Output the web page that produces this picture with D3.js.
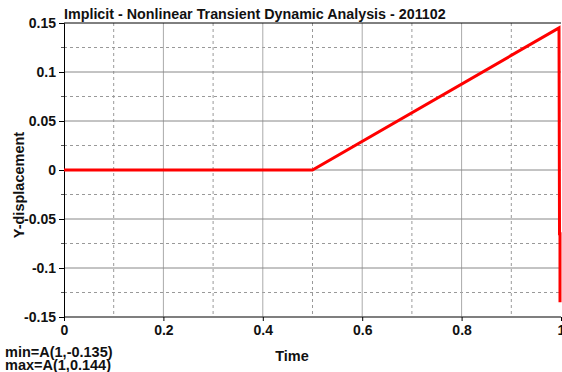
<!DOCTYPE html>
<html>
<head>
<meta charset="utf-8">
<script src="https://cdn.jsdelivr.net/npm/d3@7"></script>
<style>
    body { margin: 0; background: #fff; }
    text { font-family: "Liberation Sans", Arial, sans-serif; font-weight: bold; fill: #111; }
</style>
</head>
<body>
<div id="chart"></div>
<script>
// Series data
const timeValues = [0, 0.5, 0.996, 0.997, 0.999, 1];
const yDisplacement = [0, 0, 0.145, -0.065, -0.065, -0.135];
const xTicks = [0, 0.2, 0.4, 0.6, 0.8, 1];
const yTicks = [0.15, 0.1, 0.05, 0, -0.05, -0.1, -0.15];
const xMinor = [0.1, 0.3, 0.5, 0.7, 0.9];
const yMinor = [0.125, 0.075, 0.025, -0.025, -0.075, -0.125];
const titleText = "Implicit - Nonlinear Transient Dynamic Analysis - 201102";
const noteLines = ["min=A(1,-0.135)", "max=A(1,0.144)"];

const width = 562;
const height = 372;
const margin = { top: 23, right: 1, bottom: 55, left: 64 };

const svg = d3.select("#chart")
    .append("svg")
    .attr("width", width)
    .attr("height", height);

const x = d3.scaleLinear().domain([0, 1]).range([margin.left, width - margin.right]);
const y = d3.scaleLinear().domain([-0.15, 0.15]).range([height - margin.bottom, margin.top]);

// Minor dashed grid
svg.selectAll(".xminor").data(xMinor).enter().append("line")
    .attr("x1", d => x(d)).attr("x2", d => x(d))
    .attr("y1", y(0.15)).attr("y2", y(-0.15))
    .attr("stroke", "#999").attr("stroke-dasharray", "3,3");
svg.selectAll(".yminor").data(yMinor).enter().append("line")
    .attr("x1", x(0)).attr("x2", x(1))
    .attr("y1", d => y(d)).attr("y2", d => y(d))
    .attr("stroke", "#999").attr("stroke-dasharray", "3,3");

// Major solid grid
svg.selectAll(".xmajor").data(xTicks.slice(1, -1)).enter().append("line")
    .attr("x1", d => x(d)).attr("x2", d => x(d))
    .attr("y1", y(0.15)).attr("y2", y(-0.15))
    .attr("stroke", "#aaa");
svg.selectAll(".ymajor").data(yTicks.slice(1, -1)).enter().append("line")
    .attr("x1", x(0)).attr("x2", x(1))
    .attr("y1", d => y(d)).attr("y2", d => y(d))
    .attr("stroke", "#888");

// Frame
svg.append("line").attr("x1", x(0)).attr("x2", x(1)).attr("y1", y(0.15)).attr("y2", y(0.15)).attr("stroke", "#000");
svg.append("line").attr("x1", x(0)).attr("x2", x(1)).attr("y1", y(-0.15)).attr("y2", y(-0.15)).attr("stroke", "#555").attr("stroke-width", 1.5);

// Axes (plain hyphen for negative numbers, like the original)
const yAxis = d3.axisLeft(y).tickValues(yTicks).tickSize(5).tickPadding(3).tickFormat(d => String(+d.toFixed(3)));
svg.append("g").attr("transform", `translate(${margin.left},0)`).call(yAxis)
    .call(g => g.select(".domain").attr("stroke", "#000"))
    .call(g => g.selectAll("text").style("font-size", "14px"));
svg.selectAll(".ytickminor").data(yMinor).enter().append("line")
    .attr("x1", x(0) - 3).attr("x2", x(0))
    .attr("y1", d => y(d)).attr("y2", d => y(d))
    .attr("stroke", "#555");

const xAxis = d3.axisBottom(x).tickValues(xTicks).tickSize(4).tickPadding(4).tickFormat(d => String(d));
svg.append("g").attr("transform", `translate(0,${y(-0.15)})`).call(xAxis)
    .call(g => g.select(".domain").remove())
    .call(g => g.selectAll("text").style("font-size", "14px"));

// Series line
const points = timeValues.map((t, i) => [t, yDisplacement[i]]);
svg.append("path")
    .datum(points)
    .attr("fill", "none")
    .attr("stroke", "#ff0000")
    .attr("stroke-width", 3)
    .attr("d", d3.line().x(d => Math.min(x(d[0]), width - 2)).y(d => y(d[1])));

// Title and labels
svg.append("text").attr("x", margin.left).attr("y", 19).style("font-size", "14.3px").text(titleText);
svg.append("text").attr("x", 292).attr("y", 361).attr("text-anchor", "middle").style("font-size", "14.5px").text("Time");
svg.append("text").attr("transform", `translate(24,185) rotate(-90)`).attr("text-anchor", "middle").style("font-size", "14.5px").text("Y-displacement");
svg.selectAll(".note").data(noteLines).enter().append("text")
    .attr("x", 5).attr("y", (d, i) => 357 + i * 13)
    .style("font-size", "14.5px").text(d => d);
</script>
</body>
</html>
